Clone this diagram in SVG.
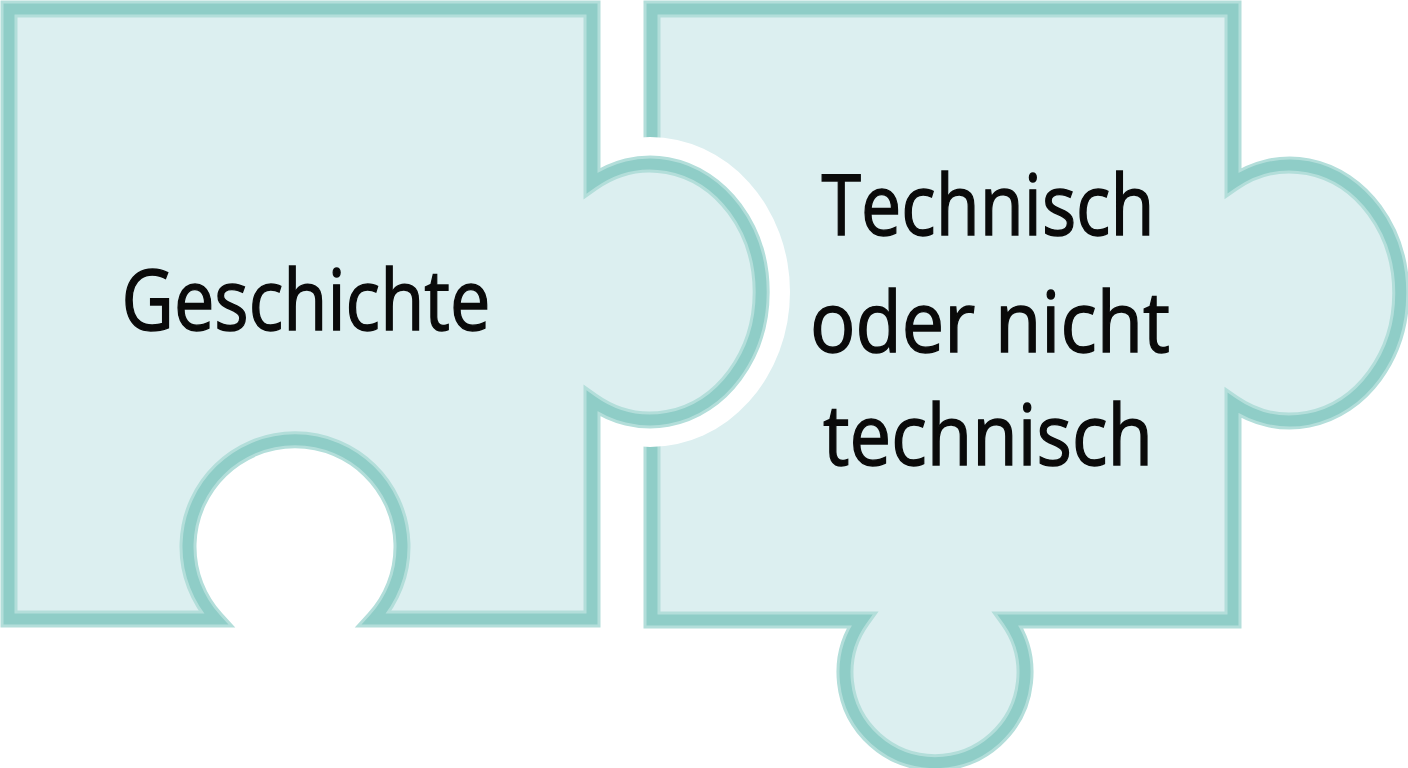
<svg xmlns="http://www.w3.org/2000/svg" width="1408" height="768" viewBox="0 0 1408 768">
  <defs>
    <style>
      .fill { fill: #dceff0; stroke: none; }
      .halo { fill: none; stroke: #b3deda; stroke-width: 17; stroke-linejoin: miter; }
      .edge { fill: none; stroke: #8fcdc7; stroke-width: 11; stroke-linejoin: miter; }
      .label { font-family: "Open Sans", "Noto Sans", "Liberation Sans", sans-serif; font-size: 84px; fill: #0a0a0a; stroke: #0a0a0a; stroke-width: 1.4; text-anchor: middle; }
    </style>
    <path id="shapeRight" d="M652,9 H1233 V183 A111,128 0 1 1 1233,403 V620 H1008 A90,90 0 1 1 862,620 H652 Z"/>
    <path id="shapeLeft" d="M9,9 H592 V183 A111,128 0 1 1 592,401 V619 H374 A107,107 0 1 0 216,619 H9 Z"/>
  </defs>
  <rect width="1408" height="768" fill="#ffffff"/>
  <g id="piece-technisch">
    <use href="#shapeRight" class="fill"/>
    <use href="#shapeRight" class="halo"/>
    <use href="#shapeRight" class="edge"/>
    <text class="label" x="988" y="235" textLength="333" lengthAdjust="spacingAndGlyphs">Technisch</text>
    <text class="label" x="990" y="352" textLength="360" lengthAdjust="spacingAndGlyphs">oder nicht</text>
    <text class="label" x="988" y="465" textLength="330" lengthAdjust="spacingAndGlyphs">technisch</text>
  </g>
  <g id="gap">
    <ellipse cx="650" cy="292" rx="140" ry="155" fill="#ffffff"/>
  </g>
  <g id="piece-geschichte">
    <use href="#shapeLeft" class="fill"/>
    <use href="#shapeLeft" class="halo"/>
    <use href="#shapeLeft" class="edge"/>
    <text class="label" x="306" y="330" textLength="369" lengthAdjust="spacingAndGlyphs">Geschichte</text>
  </g>
  <g id="connectors"/>
</svg>
